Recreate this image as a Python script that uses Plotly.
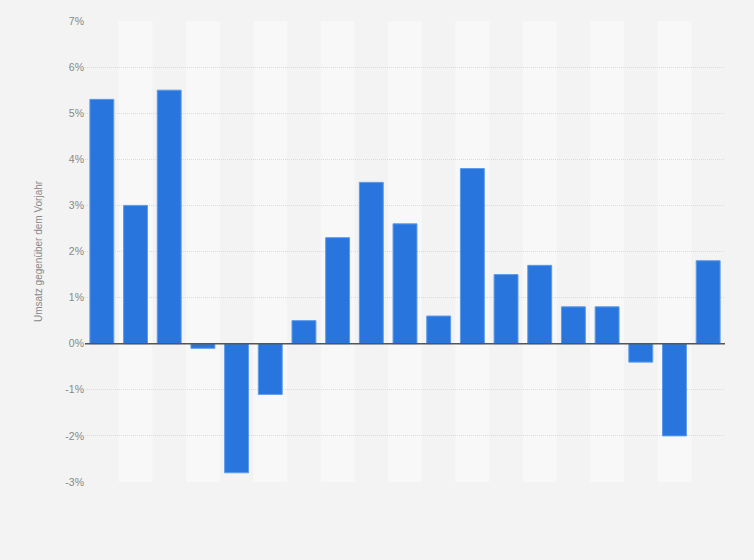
import plotly.graph_objects as go

categories = [str(i) for i in range(1, 20)]
values = [5.3, 3.0, 5.5, -0.1, -2.8, -1.1, 0.5, 2.3, 3.5, 2.6, 0.6, 3.8, 1.5, 1.7, 0.8, 0.8, -0.4, -2.0, 1.8]
tick_vals = [-3, -2, -1, 0, 1, 2, 3, 4, 5, 6, 7]
tick_text = [f"{v}%" for v in tick_vals]

fig = go.Figure()
fig.add_trace(go.Bar(
    x=list(range(len(categories))), y=values,
    marker=dict(color="#2876dd", line=dict(color="#5e9bea", width=1)),
    hoverinfo="y",
))

shapes = []
for i in range(len(categories)):
    if i % 2 == 1:
        shapes.append(dict(type="rect", xref="x", yref="y", x0=i - 0.5, x1=i + 0.5,
                           y0=-3, y1=7, fillcolor="#f8f8f8", line=dict(width=0), layer="below"))
shapes.append(dict(type="line", xref="paper", yref="y", x0=0, x1=1, y0=0, y1=0,
                   line=dict(color="#555555", width=1.5)))

fig.update_layout(
    width=754, height=560,
    paper_bgcolor="#f3f3f3", plot_bgcolor="#f3f3f3",
    margin=dict(l=85, r=29, t=21, b=78),
    bargap=0.29,
    showlegend=False,
    shapes=shapes,
    font=dict(family="Liberation Sans, Arial, sans-serif", color="#888888", size=11),
    xaxis=dict(range=[-0.5, len(categories) - 0.5], showticklabels=False, showgrid=False,
               zeroline=False, showline=False, ticks=""),
    yaxis=dict(range=[-3, 7], tickvals=tick_vals, ticktext=tick_text,
               showgrid=True, gridcolor="#dadada", griddash="1px,1px", gridwidth=1,
               zeroline=False, showline=False, ticks="", ticklen=0,
               tickfont=dict(size=10.5, color="#888888"),
               title=dict(text="Umsatz gegenüber dem Vorjahr", font=dict(size=10, color="#888888"), standoff=20)),
)

fig.write_html("out.html", config={"displayModeBar": False},
               post_script="document.body.style.margin='0';document.body.style.background='#f3f3f3';")
